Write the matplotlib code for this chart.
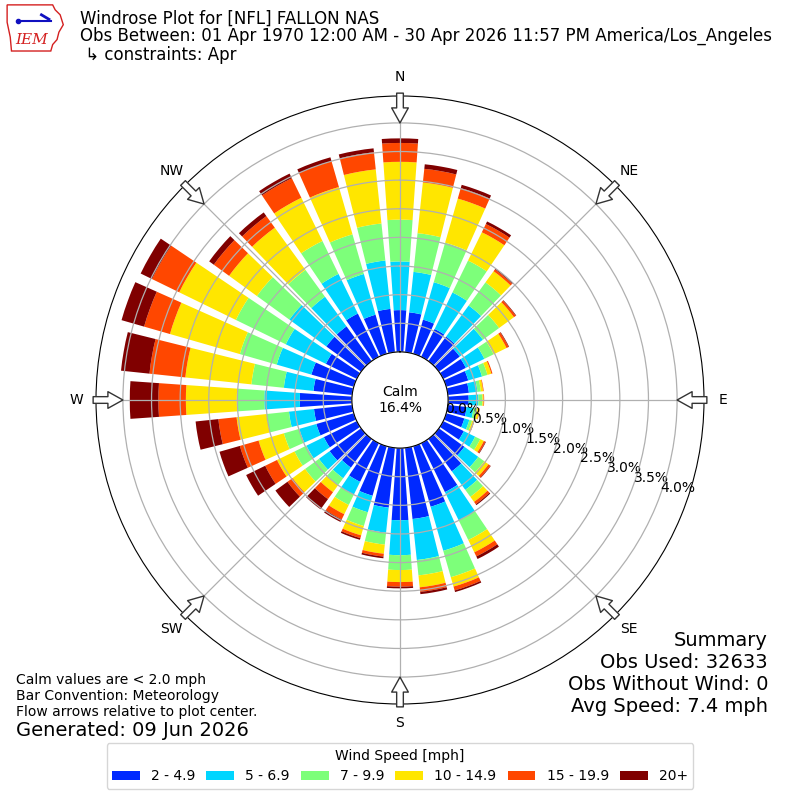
import numpy as np
import matplotlib
matplotlib.use("Agg")
import matplotlib.pyplot as plt
from matplotlib.patches import FancyArrowPatch, Polygon

# direction bins, every 10 degrees starting at north
directions = np.arange(0, 360, 10)
speed_labels = ["2 - 4.9", "5 - 6.9", "7 - 9.9", "10 - 14.9", "15 - 19.9", "20+"]

# percent of all obs per direction bin for each speed class
spd_2_5 = [0.73, 0.70, 0.62, 0.54, 0.53, 0.45, 0.44, 0.40, 0.37, 0.36, 0.33, 0.33,
           0.40, 0.55, 0.70, 0.95, 1.10, 1.25, 1.26, 1.05, 0.90, 0.75, 0.62, 0.68,
           0.64, 0.68, 0.67, 0.91, 0.68, 0.77, 0.60, 0.75, 0.75, 0.84, 0.71, 0.76]
spd_5_7 = [0.85, 0.71, 0.68, 0.71, 0.67, 0.50, 0.36, 0.25, 0.15, 0.17, 0.12, 0.09,
           0.22, 0.30, 0.40, 0.55, 0.80, 0.72, 0.61, 0.44, 0.30, 0.25, 0.23, 0.23,
           0.34, 0.31, 0.44, 0.62, 0.52, 0.63, 0.78, 0.80, 0.64, 0.77, 0.74, 0.85]
spd_7_10 = [0.73, 0.68, 0.72, 0.62, 0.50, 0.35, 0.18, 0.10, 0.06, 0.07, 0.06, 0.05,
            0.10, 0.13, 0.15, 0.38, 0.48, 0.27, 0.26, 0.21, 0.25, 0.20, 0.15, 0.30,
            0.23, 0.28, 0.39, 0.48, 0.57, 0.67, 0.97, 0.70, 0.58, 0.64, 0.72, 0.65]
spd_10_15 = [1.01, 0.89, 0.80, 0.55, 0.24, 0.32, 0.25, 0.07, 0.04, 0.02, 0.04, 0.03,
             0.07, 0.09, 0.11, 0.24, 0.17, 0.21, 0.21, 0.16, 0.17, 0.18, 0.15, 0.27,
             0.34, 0.46, 0.53, 0.89, 1.16, 1.27, 1.10, 0.60, 0.91, 0.84, 0.86, 0.95]
spd_15_20 = [0.33, 0.24, 0.19, 0.16, 0.04, 0.04, 0.04, 0.02, 0.01, 0.01, 0.01, 0.01,
             0.03, 0.04, 0.05, 0.08, 0.07, 0.08, 0.08, 0.05, 0.05, 0.10, 0.15, 0.11,
             0.23, 0.34, 0.32, 0.48, 0.63, 0.47, 0.53, 0.33, 0.25, 0.38, 0.47, 0.30]
spd_20p = [0.08, 0.08, 0.06, 0.05, 0.02, 0.01, 0.01, 0.00, 0.00, 0.00, 0.00, 0.00,
           0.01, 0.01, 0.02, 0.05, 0.03, 0.04, 0.03, 0.03, 0.03, 0.05, 0.22, 0.26,
           0.37, 0.37, 0.40, 0.50, 0.50, 0.41, 0.22, 0.10, 0.08, 0.09, 0.07, 0.07]
calm_pct = 16.4
rticks = [0.0, 0.5, 1.0, 1.5, 2.0, 2.5, 3.0, 3.5, 4.0]
compass = ["N", "NE", "E", "SE", "S", "SW", "W", "NW"]

fig = plt.figure(figsize=(8, 8), dpi=100)
ax = fig.add_axes([0.12, 0.12, 0.76, 0.76], projection="polar")
ax.set_theta_zero_location("N")
ax.set_theta_direction(-1)

theta = np.deg2rad(directions)
bottom = np.zeros(len(directions))
colors = plt.cm.jet(np.linspace(0, 1, 7)[1:])
for vals, lab, c in zip([spd_2_5, spd_5_7, spd_7_10, spd_10_15, spd_15_20, spd_20p],
                        speed_labels, colors):
    ax.bar(theta, vals, width=np.deg2rad(8), bottom=bottom, color=c,
           label=lab, linewidth=0)
    bottom = bottom + np.array(vals)

ax.set_ylim(0, 4.47)
ax.set_rorigin(-0.84)
ax.set_yticks(rticks)
ax.set_yticklabels([f"{v:.1f}%" for v in rticks], fontsize=10)
ax.set_rlabel_position(110)
ax.set_xticks(np.deg2rad(np.arange(0, 360, 45)))
ax.set_xticklabels(compass, fontsize=10)
ax.grid(True, color="#b0b0b0", lw=0.9)

# flow arrows on the rim
for d in range(0, 360, 45):
    t = np.deg2rad(d)
    arr = FancyArrowPatch((t, 4.52), (t, 4.0),
                          arrowstyle="simple,head_length=0.9,head_width=1.0,tail_width=0.4",
                          mutation_scale=12, fc="white", ec="#333333", lw=1,
                          shrinkA=0, shrinkB=0, transform=ax.transData,
                          clip_on=False, zorder=5)
    ax.add_patch(arr)

ax.text(0, -0.84, f"Calm\n{calm_pct:.1f}%", ha="center", va="center",
        fontsize=10, zorder=6)

# header
fig.text(0.1, 0.976, "Windrose Plot for [NFL] FALLON NAS", fontsize=12, va="center")
fig.text(0.1, 0.955, "Obs Between: 01 Apr 1970 12:00 AM - 30 Apr 2026 11:57 PM America/Los_Angeles",
         fontsize=12, va="center")
fig.text(0.1, 0.931, " \u21b3 constraints: Apr", fontsize=12, va="center")

# logo
lax = fig.add_axes([0.005, 0.935, 0.078, 0.062])
lax.set_xlim(0, 1)
lax.set_ylim(0, 1)
lax.axis("off")
iowa = [(0.05, 0.95), (0.78, 0.95), (0.82, 0.85), (0.9, 0.75), (0.95, 0.55),
        (0.88, 0.4), (0.85, 0.25), (0.78, 0.15), (0.75, 0.02), (0.12, 0.02),
        (0.1, 0.3), (0.05, 0.6)]
lax.add_patch(Polygon(iowa, closed=True, fill=False, ec="#d42020", lw=1))
lax.plot([0.22, 0.75], [0.62, 0.62], color="#1010c0", lw=1.5)
lax.plot([0.22], [0.62], "o", color="#1010c0", ms=3)
lax.plot([0.6, 0.72], [0.75, 0.66], color="#1010c0", lw=2)
lax.text(0.45, 0.25, "IEM", color="#d42020", fontsize=11, family="DejaVu Serif",
         style="italic", ha="center", va="center")

# notes
fig.text(0.02, 0.150, "Calm values are < 2.0 mph", fontsize=10, va="center")
fig.text(0.02, 0.130, "Bar Convention: Meteorology", fontsize=10, va="center")
fig.text(0.02, 0.110, "Flow arrows relative to plot center.", fontsize=10, va="center")
fig.text(0.02, 0.0875, "Generated: 09 Jun 2026", fontsize=14, va="center")

fig.text(0.96, 0.200, "Summary", fontsize=14, ha="right", va="center")
fig.text(0.96, 0.1725, "Obs Used: 32633", fontsize=14, ha="right", va="center")
fig.text(0.96, 0.145, "Obs Without Wind: 0", fontsize=14, ha="right", va="center")
fig.text(0.96, 0.1175, "Avg Speed: 7.4 mph", fontsize=14, ha="right", va="center")

handles, labels = ax.get_legend_handles_labels()
fig.legend(handles, labels, loc="center", bbox_to_anchor=(0.5, 0.0425), ncol=6,
           title="Wind Speed [mph]", fontsize=10, title_fontsize=10,
           columnspacing=0.8)

fig.savefig("out.png", dpi=100)
